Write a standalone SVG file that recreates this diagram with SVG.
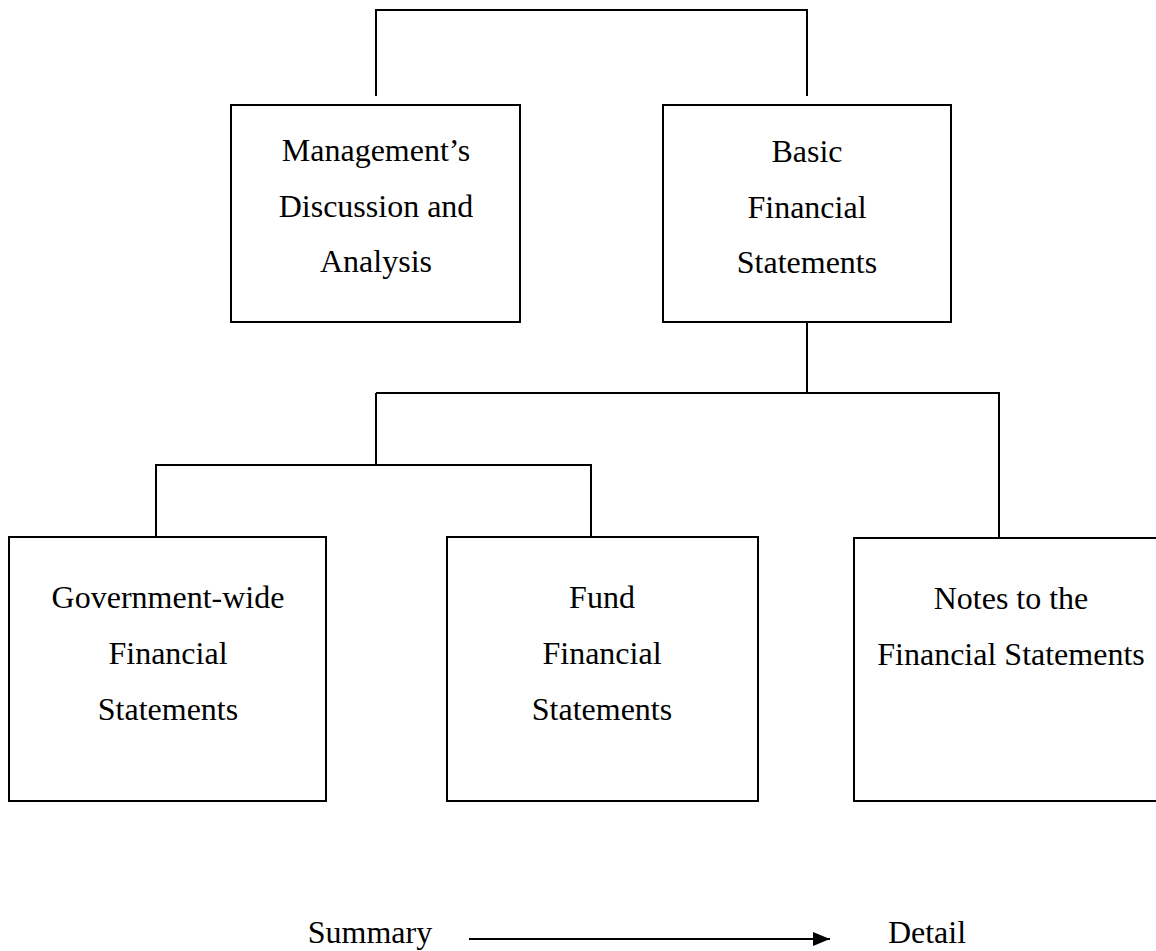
<svg xmlns="http://www.w3.org/2000/svg" width="1156" height="951" viewBox="0 0 1156 951">
<defs>
<style>
.box{fill:#fff;stroke:#000;stroke-width:2}
.ln{fill:none;stroke:#000;stroke-width:2}
text{font-family:"Liberation Serif","Times New Roman",serif;font-size:32px;fill:#000;text-anchor:middle}
</style>
<marker id="ah" markerWidth="17" markerHeight="14" refX="17" refY="7" orient="auto" markerUnits="userSpaceOnUse" viewBox="0 0 17 14">
<path d="M0,0 L17,7 L0,14 Z" fill="#000"/>
</marker>
</defs>
<rect width="1156" height="951" fill="#fff"/>
<g id="connectors">
<path class="ln" d="M376,96 V10 H807 V96"/>
<path class="ln" d="M807,322 V393 H999 V537"/>
<path class="ln" d="M376,393 H807"/>
<path class="ln" d="M376,393 V465"/>
<path class="ln" d="M156,537 V465 H591 V537"/>
</g>
<g id="mda">
<rect class="box" x="231" y="105" width="289" height="217"/>
<text x="376" y="161">Management’s</text>
<text x="376" y="217">Discussion and</text>
<text x="376" y="272">Analysis</text>
</g>
<g id="bfs">
<rect class="box" x="663" y="105" width="288" height="217"/>
<text x="807" y="162">Basic</text>
<text x="807" y="218">Financial</text>
<text x="807" y="273">Statements</text>
</g>
<g id="gov">
<rect class="box" x="9" y="537" width="317" height="264"/>
<text x="168" y="608">Government-wide</text>
<text x="168" y="664">Financial</text>
<text x="168" y="720">Statements</text>
</g>
<g id="fund">
<rect class="box" x="447" y="537" width="311" height="264"/>
<text x="602" y="608">Fund</text>
<text x="602" y="664">Financial</text>
<text x="602" y="720">Statements</text>
</g>
<g id="notes">
<rect class="box" x="854" y="538" width="320" height="263"/>
<text x="1011" y="609">Notes to the</text>
<text x="1011" y="665">Financial Statements</text>
</g>
<g id="legend">
<text x="370" y="943">Summary</text>
<line class="ln" x1="469" y1="939" x2="830" y2="939" marker-end="url(#ah)"/>
<text x="927" y="943">Detail</text>
</g>
</svg>
